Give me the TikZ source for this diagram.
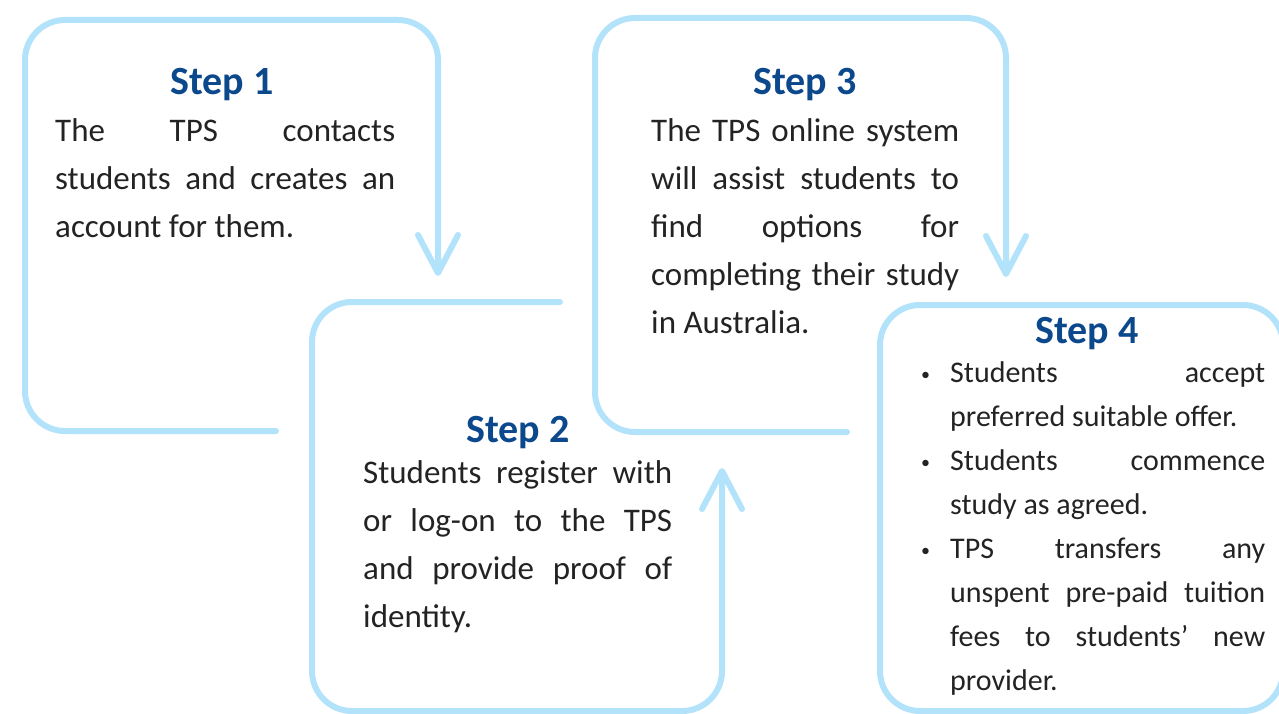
\documentclass[tikz,border=0pt]{standalone}
\usepackage{fontspec}
\setmainfont{Carlito}
\usetikzlibrary{arrows.meta,positioning}
\definecolor{lineblue}{RGB}{179,227,251}
\definecolor{titleblue}{RGB}{12,72,140}
\definecolor{bodygray}{RGB}{35,35,35}
\tolerance=10000
\hyphenpenalty=10000
\newcommand{\stepbullet}{\noindent\llap{\raisebox{2pt}{\fontsize{18}{18}\selectfont\textbullet}\hspace{20pt}}}
\tikzset{
    loop line/.style={draw=lineblue,line width=6pt,line cap=round,line join=round,rounded corners=40pt},
    loop arrow/.style={loop line,-{Straight Barb[round,length=38pt,width=40pt]}},
    step title/.style={anchor=base,inner sep=0pt,text=titleblue,font=\fontsize{40}{48}\selectfont\bfseries},
    step text/.style={anchor=base west,inner sep=0pt,text=bodygray,align=justify,font=\fontsize{33}{48}\selectfont},
    step list/.style={step text,font=\fontsize{30}{44}\selectfont}
}
\begin{document}
\begin{tikzpicture}[x=1pt,y=-1pt]
    \useasboundingbox (0,0) rectangle (1279,714);

    % the four loops
    \coordinate (tip1) at (438,276);
    \coordinate (tip2) at (722,468);
    \coordinate (tip3) at (1006,277);
    \draw[loop arrow] (276,431) -- (25,431) -- (25,20) -- (438,20) -- (tip1);
    \draw[loop arrow] (560,302) -- (312,302) -- (312,711) -- (722,711) -- (tip2);
    \draw[loop arrow] (847,432) -- (595,432) -- (595,18) -- (1006,18) -- (tip3);
    \draw[loop line] (880,305) rectangle (1283,711);

    % texts
    \node[step title] (step1title) at (222,95) {Step 1};
    \node[step text,text width=340pt] (step1text) at (55,142)
        {The TPS contacts\linebreak students and creates an\linebreak account for them.};

    \node[step title] (step2title) at (518,442) {Step 2};
    \node[step text,text width=309pt] (step2text) at (363,483)
        {Students register with\linebreak or log-on to the TPS\linebreak and provide proof of\linebreak identity.};

    \node[step title] (step3title) at (805,95) {Step 3};
    \node[step text,text width=308pt] (step3text) at (651,142)
        {The TPS online system\linebreak will assist students to\linebreak find options for\linebreak completing their study\linebreak in Australia.};

    \node[step title] (step4title) at (1087,343) {Step 4};
    \node[step list,text width=315pt] (step4text) at (950,382)
        {\stepbullet Students accept\linebreak preferred suitable offer.\par
         \stepbullet Students commence\linebreak study as agreed.\par
         \stepbullet TPS transfers any\linebreak unspent pre-paid tuition\linebreak fees to students’ new\linebreak provider.};
\end{tikzpicture}
\end{document}
